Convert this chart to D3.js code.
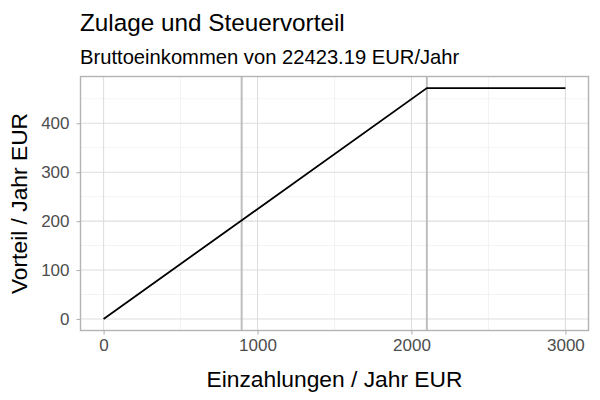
<!DOCTYPE html>
<html><head><meta charset="utf-8">
<script src="https://cdn.jsdelivr.net/npm/d3@7"></script>
<style>body{margin:0;background:#fff}svg{display:block}text{font-family:"Liberation Sans",Arial,sans-serif}</style>
</head><body>
<svg id="c" width="600" height="400"></svg>
<script>
const einzahlungen = [0, 2100, 3000];
const vorteil = [0, 472, 472];
const vlines = [896.93, 2100];
const xTicks = [0, 1000, 2000, 3000];
const xMinor = [500, 1500, 2500];
const yTicks = [0, 100, 200, 300, 400];
const yMinor = [50, 150, 250, 350, 450];
const title = "Zulage und Steuervorteil";
const subtitle = "Bruttoeinkommen von 22423.19 EUR/Jahr";
const xTitle = "Einzahlungen / Jahr EUR";
const yTitle = "Vorteil / Jahr EUR";

const svg = d3.select("#c");
const L = 80.5, R = 588.5, T = 76.5, B = 330.5;
const xr = [0, 3000], yr = [0, 472];
const xe = (xr[1]-xr[0])*0.05, ye = (yr[1]-yr[0])*0.05;
const x = d3.scaleLinear().domain([xr[0]-xe, xr[1]+xe]).range([L, R]);
const y = d3.scaleLinear().domain([yr[0]-ye, yr[1]+ye]).range([B, T]);

const g = svg.append("g");
// minor grid
g.selectAll(".xm").data(xMinor).join("line").attr("x1", d=>x(d)).attr("x2", d=>x(d)).attr("y1", T).attr("y2", B).attr("stroke", "#ebebeb").attr("stroke-width", 0.6);
g.selectAll(".ym").data(yMinor).join("line").attr("y1", d=>y(d)).attr("y2", d=>y(d)).attr("x1", L).attr("x2", R).attr("stroke", "#ebebeb").attr("stroke-width", 0.6);
// major grid
g.selectAll(".xM").data(xTicks).join("line").attr("x1", d=>x(d)).attr("x2", d=>x(d)).attr("y1", T).attr("y2", B).attr("stroke", "#dedede").attr("stroke-width", 1.1);
g.selectAll(".yM").data(yTicks).join("line").attr("y1", d=>y(d)).attr("y2", d=>y(d)).attr("x1", L).attr("x2", R).attr("stroke", "#dedede").attr("stroke-width", 1.1);

// vlines
g.selectAll(".vl").data(vlines).join("line").attr("x1", d=>x(d)).attr("x2", d=>x(d)).attr("y1", T).attr("y2", B).attr("stroke", "#bebebe").attr("stroke-width", 2);

// line
const pts = einzahlungen.map((v,i)=>[v, vorteil[i]]);
g.append("path").datum(pts).attr("d", d3.line().x(d=>x(d[0])).y(d=>y(d[1]))).attr("fill","none").attr("stroke","#000").attr("stroke-width",1.8);

// border
g.append("rect").attr("x", L).attr("y", T).attr("width", R-L).attr("height", B-T).attr("fill","none").attr("stroke","#b3b3b3").attr("stroke-width",1.4);

// axes
const xa = svg.append("g").attr("transform", `translate(0,${B})`).call(d3.axisBottom(x).tickValues(xTicks).tickSize(4).tickPadding(4).tickFormat(d3.format("d")));
const ya = svg.append("g").attr("transform", `translate(${L},0)`).call(d3.axisLeft(y).tickValues(yTicks).tickSize(4).tickPadding(7).tickFormat(d3.format("d")));
[xa, ya].forEach(a => {
  a.select(".domain").remove();
  a.selectAll(".tick line").attr("stroke", "#b3b3b3").attr("stroke-width", 1.1);
  a.selectAll(".tick text").attr("fill", "#4d4d4d").style("font-size", "17px").style("font-family", '"Liberation Sans",Arial,sans-serif');
});

svg.append("text").attr("x", 80).attr("y", 31).attr("font-size", 24.3).attr("fill", "#000").text(title);
svg.append("text").attr("x", 80).attr("y", 64).attr("font-size", 20.2).attr("fill", "#000").text(subtitle);
svg.append("text").attr("x", (L+R)/2).attr("y", 387).attr("text-anchor", "middle").attr("font-size", 22.8).attr("fill", "#000").text(xTitle);
svg.append("text").attr("transform", `translate(27,${(T+B)/2}) rotate(-90)`).attr("text-anchor", "middle").attr("font-size", 22.8).attr("fill", "#000").text(yTitle);
</script>
</body></html>
